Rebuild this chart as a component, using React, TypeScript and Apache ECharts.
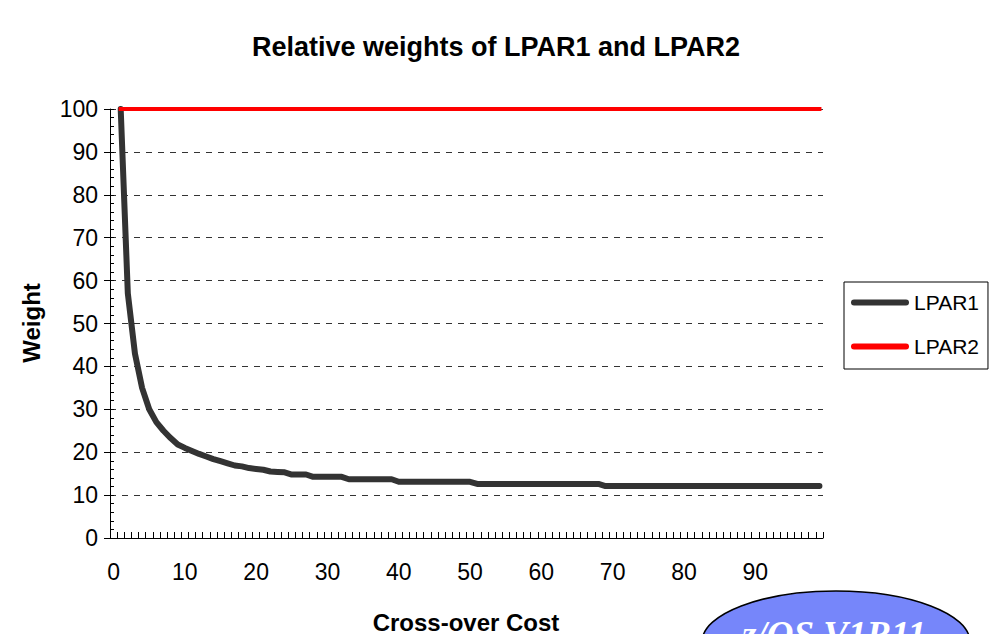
import React, { useEffect, useRef } from "react";
import * as echarts from "echarts";

const categories = [
  0, 1, 2, 3, 4, 5, 6, 7, 8, 9,
  10, 11, 12, 13, 14, 15, 16, 17, 18, 19,
  20, 21, 22, 23, 24, 25, 26, 27, 28, 29,
  30, 31, 32, 33, 34, 35, 36, 37, 38, 39,
  40, 41, 42, 43, 44, 45, 46, 47, 48, 49,
  50, 51, 52, 53, 54, 55, 56, 57, 58, 59,
  60, 61, 62, 63, 64, 65, 66, 67, 68, 69,
  70, 71, 72, 73, 74, 75, 76, 77, 78, 79,
  80, 81, 82, 83, 84, 85, 86, 87, 88, 89,
  90, 91, 92, 93, 94, 95, 96, 97, 98, 99,
];

const lpar1 = [
  null, 100, 57, 43, 35, 30, 27, 25, 23.3, 21.8,
  21, 20.3, 19.6, 19, 18.4, 17.9, 17.4, 16.9, 16.7, 16.3,
  16.1, 15.9, 15.5, 15.4, 15.3, 14.8, 14.8, 14.8, 14.25, 14.25,
  14.25, 14.25, 14.25, 13.7, 13.7, 13.7, 13.7, 13.7, 13.7, 13.7,
  13.1, 13.1, 13.1, 13.1, 13.1, 13.1, 13.1, 13.1, 13.1, 13.1,
  13.1, 12.6, 12.6, 12.6, 12.6, 12.6, 12.6, 12.6, 12.6, 12.6,
  12.6, 12.6, 12.6, 12.6, 12.6, 12.6, 12.6, 12.6, 12.6, 12.1,
  12.1, 12.1, 12.1, 12.1, 12.1, 12.1, 12.1, 12.1, 12.1, 12.1,
  12.1, 12.1, 12.1, 12.1, 12.1, 12.1, 12.1, 12.1, 12.1, 12.1,
  12.1, 12.1, 12.1, 12.1, 12.1, 12.1, 12.1, 12.1, 12.1, 12.1,
];

const lpar2 = [
  null, 100, 100, 100, 100, 100, 100, 100, 100, 100,
  100, 100, 100, 100, 100, 100, 100, 100, 100, 100,
  100, 100, 100, 100, 100, 100, 100, 100, 100, 100,
  100, 100, 100, 100, 100, 100, 100, 100, 100, 100,
  100, 100, 100, 100, 100, 100, 100, 100, 100, 100,
  100, 100, 100, 100, 100, 100, 100, 100, 100, 100,
  100, 100, 100, 100, 100, 100, 100, 100, 100, 100,
  100, 100, 100, 100, 100, 100, 100, 100, 100, 100,
  100, 100, 100, 100, 100, 100, 100, 100, 100, 100,
  100, 100, 100, 100, 100, 100, 100, 100, 100, 100,
];

const FONT = '"Liberation Sans", Arial, sans-serif';
const LEGEND_ICON = "path://M3,0 L55,0 A3,3 0 0 1 55,6 L3,6 A3,3 0 0 1 3,0 Z";

export default function App() {
  const ref = useRef<HTMLDivElement>(null);
  useEffect(() => {
    if (!ref.current) return;
    const chart = echarts.init(ref.current, null, { renderer: "svg" });
    chart.setOption({
      animation: false,
      backgroundColor: "#ffffff",
      title: {
        text: "Relative weights of LPAR1 and LPAR2",
        left: "center",
        top: 28,
        textStyle: { fontFamily: FONT, fontSize: 27, fontWeight: "bold", color: "#000" },
      },
      grid: { left: 110, right: 169, top: 109, bottom: 96, containLabel: false },
      legend: {
        data: [
          { name: "LPAR1", icon: LEGEND_ICON },
          { name: "LPAR2", icon: LEGEND_ICON },
        ],
        orient: "vertical",
        left: 844,
        top: 282,
        padding: [10, 9, 12, 7],
        itemWidth: 58,
        itemHeight: 6,
        itemGap: 23,
        borderColor: "#000",
        borderWidth: 1,
        textStyle: { fontFamily: FONT, fontSize: 21, color: "#000", lineHeight: 20 },
      },
      xAxis: {
        type: "category",
        data: categories,
        boundaryGap: true,
        axisLine: { show: true, lineStyle: { color: "#000", width: 1 } },
        axisTick: { show: true, inside: true, length: 6, interval: 0, alignWithLabel: false, lineStyle: { color: "#000" } },
        axisLabel: { interval: 9, margin: 22, fontSize: 23, color: "#000", fontFamily: FONT },
        splitLine: { show: false },
      },
      yAxis: [
        {
          type: "value",
          min: 0,
          max: 100,
          interval: 10,
          axisLine: { show: true, lineStyle: { color: "#000", width: 1 } },
          axisTick: { show: true, inside: true, length: 4, lineStyle: { color: "#000" } },
          minorTick: { show: true, splitNumber: 5, length: 4, lineStyle: { color: "#000" } },
          axisLabel: { margin: 12, fontSize: 23, color: "#000", fontFamily: FONT },
          splitLine: { show: true, lineStyle: { color: "#333", type: [6, 6], width: 1 } },
        },
        {
          type: "value",
          min: 0,
          max: 100,
          interval: 10,
          position: "left",
          offset: 0,
          axisLine: { show: false },
          axisTick: { show: true, inside: false, length: 6, lineStyle: { color: "#000" } },
          axisLabel: { show: false },
          splitLine: { show: false },
        },
      ],
      series: [
        {
          name: "LPAR1",
          type: "line",
          data: lpar1,
          symbol: "none",
          clip: false,
          connectNulls: false,
          lineStyle: { color: "#333333", width: 6, cap: "round", join: "round" },
          itemStyle: { color: "#333333" },
        },
        {
          name: "LPAR2",
          type: "line",
          data: lpar2,
          symbol: "none",
          clip: false,
          lineStyle: { color: "#ff0000", width: 4, cap: "square" },
          itemStyle: { color: "#ff0000" },
        },
      ],
      graphic: [
        {
          type: "text",
          x: 31,
          y: 323,
          rotation: Math.PI / 2,
          style: {
            text: "Weight",
            fontFamily: FONT,
            fontSize: 24,
            fontWeight: "bold",
            fill: "#000",
            align: "center",
            verticalAlign: "middle",
            textAlign: "center",
            textVerticalAlign: "middle",
          },
        },
        {
          type: "text",
          x: 466,
          y: 622,
          style: {
            text: "Cross-over Cost",
            fontFamily: FONT,
            fontSize: 24,
            fontWeight: "bold",
            fill: "#000",
            align: "center",
            verticalAlign: "middle",
            textAlign: "center",
            textVerticalAlign: "middle",
          },
        },
        {
          type: "ellipse",
          shape: { cx: 836, cy: 642, rx: 134, ry: 51 },
          style: { fill: "#7686FA", stroke: "#000", lineWidth: 1.5 },
          z: 100,
        },
        {
          type: "text",
          x: 834,
          y: 634,
          z: 101,
          style: {
            text: "z/OS V1R11",
            fontFamily: '"Liberation Serif", "Times New Roman", serif',
            fontSize: 37,
            fontWeight: "bold",
            fontStyle: "italic",
            fill: "#ffffff",
            align: "center",
            verticalAlign: "middle",
            textAlign: "center",
            textVerticalAlign: "middle",
          },
        },
      ],
    });
    return () => chart.dispose();
  }, []);
  return (
    <div
      ref={ref}
      style={{ position: "absolute", left: 0, top: 0, width: 992, height: 634 }}
    />
  );
}
